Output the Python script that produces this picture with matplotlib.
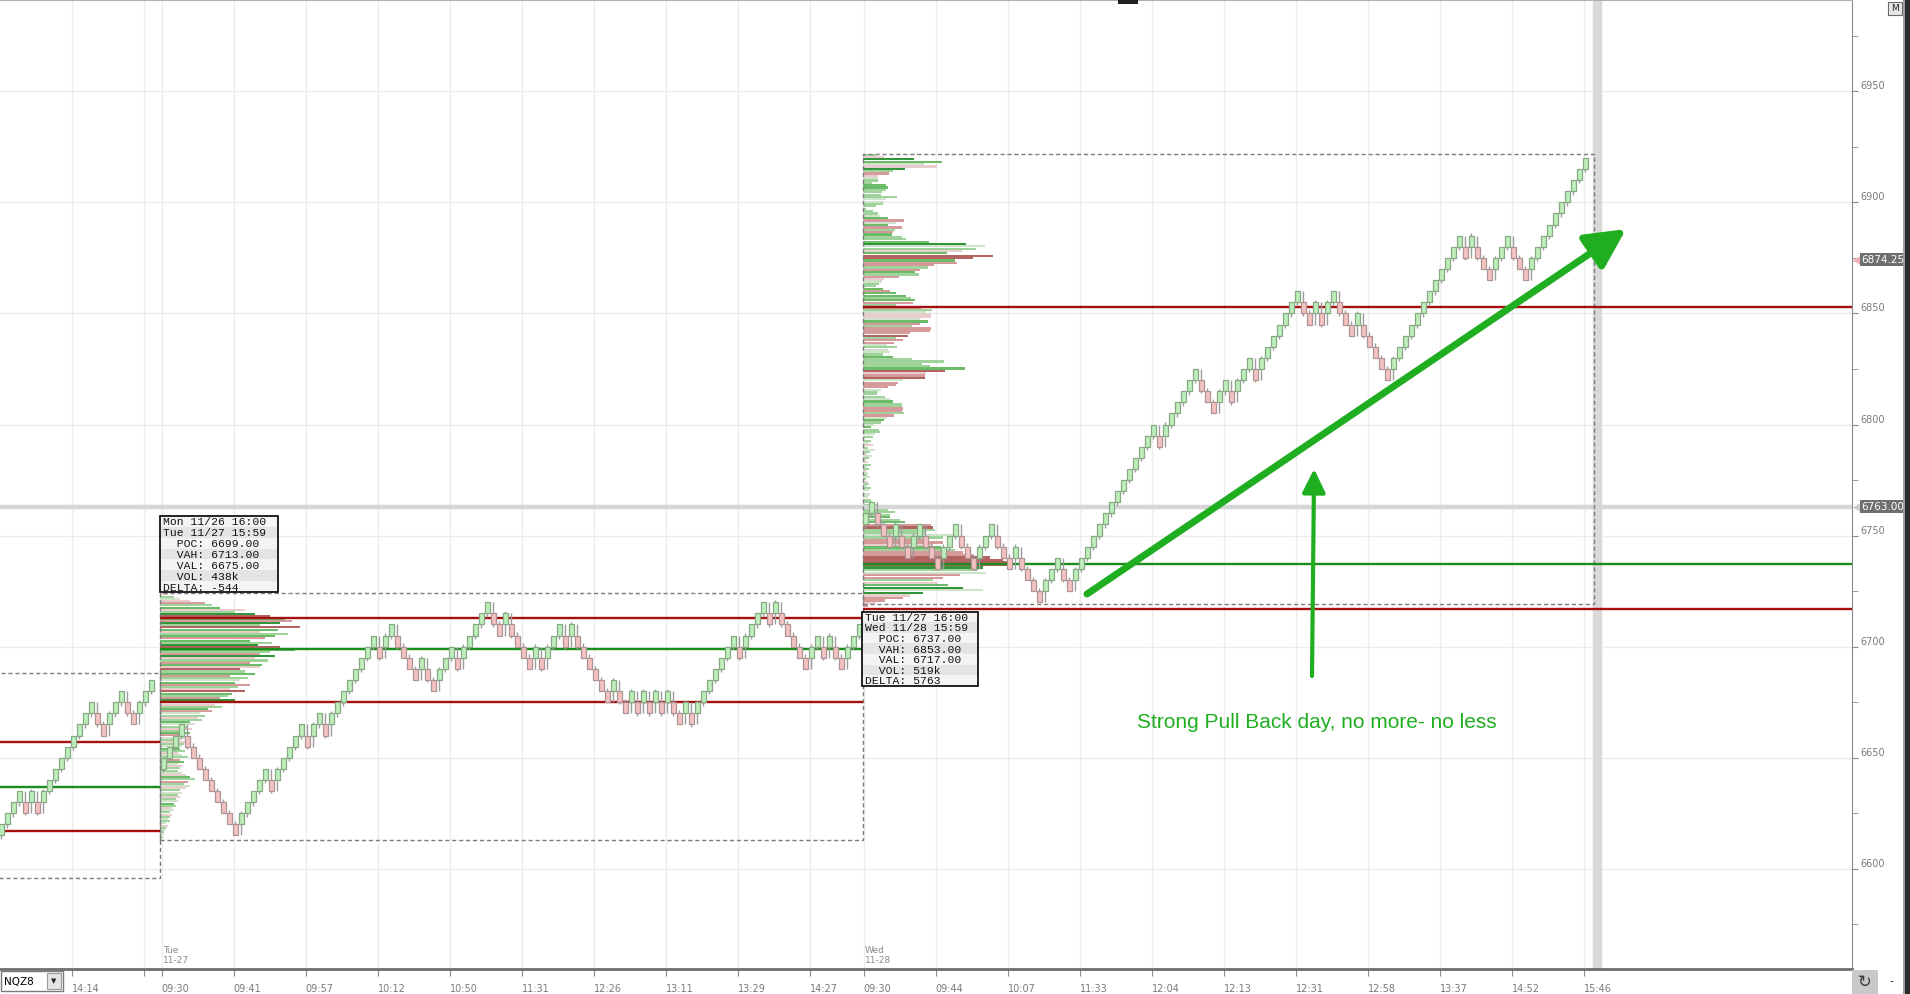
import matplotlib
matplotlib.use("Agg")
import matplotlib.pyplot as plt
import matplotlib.transforms as mtransforms
from matplotlib.patches import Rectangle

plt.rcParams['font.family'] = ['DejaVu Sans']

###-RENKO DATA (5 pt bricks, 2 brick reversal)-###
BRICK = 5
mon_first = (6615, 6620)      # open, close of first brick
mon_moves = "UUUDUDUUUUUUUUUDDUUUDDUUU"
tue_first = (6645, 6650)
tue_moves = ("UUUDDDDDDDDD" "UUUUUDUUUU" "UDUUDUUUUU" "UUUDUUDDDD" "UDDUUUDUUU"
             "UUDDUDDDDU" "DUUUDUDDDD" "DDUDDUDUDU" "DUDDUDUUUU" "UUUDUUUUDU"
             "DDDDDUUDUD" "DUUU")
wed_first = (6755, 6760)
wed_moves = ("UDDDUDDUUDDDUUUDDDUUUDD" "DUDDDDUUUDDUUUUUUUU" "UUUUUUDUUUUUU"
             "DDDUUDUUUDUUUUUUU" "DDUDUUDDDUDDDDD" "UUUUUUUUUUUU"
             "DUDDDUUUDDDUUUUUUUUUU")
mon_bar0, tue_bar0, wed_bar0 = 0, 27, 144

###-VOLUME PROFILES (segments: top price, bottom price, lengths, colour codes)-###
tue_prof_top, tue_prof_bot = 6724, 6613
tue_prof = [8, 14, 20, 30, 45, 52, 60, 85, 75, 95,
            110, 125, 132, 120, 100, 140, 118, 100, 128, 115,
            105, 90, 112, 98, 120, 135, 110, 100, 115, 95,
            108, 90, 102, 100, 80, 85, 95, 70, 88, 80,
            75, 90, 78, 70, 85, 72, 68, 60, 75, 62,
            55, 62, 48, 52, 40, 45, 38, 42, 30, 35,
            28, 32, 25, 30, 22, 26, 20, 28, 24, 22,
            20, 25, 18, 22, 28, 20, 24, 18, 22, 20,
            18, 22, 26, 30, 35, 28, 24, 30, 26, 20,
            22, 18, 20, 16, 18, 14, 16, 12, 14, 10,
            12, 10, 8, 10, 6, 8, 6, 5, 4, 4, 3, 2]
tue_prof_col = ("qlpqrlgqlG" "RgrGlRgqlg" "rglGRglrGq" "lrgqRlgrlp" "grlqRglrGl"
                "qlgrplqlgp" "lqlgrplqlp" "glqplrgpql" "lpqglrlpql" "plqlpglqpl"
                "qlplpqlplp" "lp")

wed_prof_a_top, wed_prof_a_bot = 6922, 6794
wed_prof_a = [13, 21, 51, 79, 61, 74, 42, 30, 26, 15,
              15, 15, 9, 23, 25, 23, 19, 18, 34, 23,
              21, 20, 13, 3, 10, 15, 17, 25, 41, 33,
              25, 39, 32, 30, 29, 39, 43, 66, 103, 122,
              113, 99, 84, 130, 110, 92, 94, 71, 65, 57,
              52, 56, 36, 21, 19, 16, 13, 20, 27, 33,
              43, 48, 52, 50, 33, 58, 69, 63, 68, 68,
              57, 65, 57, 49, 68, 67, 47, 45, 33, 40,
              31, 24, 34, 25, 27, 20, 30, 49, 81, 59,
              67, 102, 82, 63, 62, 62, 40, 35, 33, 25,
              18, 15, 14, 22, 27, 30, 39, 39, 40, 39,
              41, 31, 24, 21, 18, 11, 8, 16, 17, 12, 10]
wed_prof_a_col = ("lqGgpqGlrq" "pllggllllp" "plllllpgrp" "grlrgllgGp" "lqgRRgrrlr"
                  "glrqpllgrg" "glgrlrlpqq" "pgrlrrrRlr" "rplpplglll" "lgRqrRprrr"
                  "plllpgllrr" "lrpglpgllpl")
wed_prof_b_top, wed_prof_b_bot = 6793, 6770
wed_prof_b = [8, 6, 10, 5, 12, 7, 4, 9, 6, 3, 5, 8, 4, 6, 3, 5, 4, 7, 3, 5, 6, 4, 8, 6]
wed_prof_b_col = "lpqlplqplpqlplqplplqlplp"
wed_prof_c_top, wed_prof_c_bot = 6769, 6718
wed_prof_c = [7, 5, 8, 9, 15, 20, 25, 32, 27, 27, 37, 42, 68, 70, 72, 62, 93, 80, 65, 80,
              70, 78, 92, 100, 110, 127, 140, 150, 150, 120, 115, 123, 97, 80, 70, 75, 85,
              100, 120, 60, 47, 40, 22, 13, 5]
wed_prof_c_col = "pplllplllglgrRllplrrqglrrRRRRGlprrlqgGpGqrrqrq"

###-SESSION LEVELS (VAH, POC, VAL)-###
mon_levels = [6657, 6637, 6617]
tue_levels = [6713, 6699, 6675]
wed_levels = [6853, 6737, 6717]
mon_box = (6596, 6688)
tue_box = (6613, 6724)
wed_box = (6719, 6922)

tue_info = ["Mon 11/26 16:00", "Tue 11/27 15:59", "  POC: 6699.00", "  VAH: 6713.00",
            "  VAL: 6675.00", "  VOL: 438k", "DELTA: -544"]
wed_info = ["Tue 11/27 16:00", "Wed 11/28 15:59", "  POC: 6737.00", "  VAH: 6853.00",
            "  VAL: 6717.00", "  VOL: 519k", "DELTA: 5763"]

###-AXES LABELS-###
tick_bars = [11.7, 23.7, 26.7, 38.7, 50.7, 62.7, 74.7, 86.7, 98.7, 110.7, 122.7, 134.7,
             143.7, 155.7, 167.7, 179.7, 191.7, 203.7, 215.7, 227.7, 239.7, 251.7, 263.7]
tick_labels = ['14:14', '', '09:30', '09:41', '09:57', '10:12', '10:50', '11:31', '12:26',
               '13:11', '13:29', '14:27', '09:30', '09:44', '10:07', '11:33', '12:04',
               '12:13', '12:31', '12:58', '13:37', '14:52', '15:46']
price_ticks = [6600, 6650, 6700, 6750, 6800, 6850, 6900, 6950]
last_price = 6874.25
mark_price = 6763.00

PROF_COL = {'G': '#34963a', 'g': '#6cbb68', 'l': '#9fd39b', 'p': '#cfe3cb',
            'q': '#e9cccc', 'r': '#d69a9a', 'R': '#b36262'}
RED, GREEN = '#a50f0f', '#1b8c1b'
ARROW = '#1fae1f'


def build_bricks(first, moves):
    o, c = first
    out = [(o, c)]
    for m in moves:
        up = c > o
        if m == 'U':
            o, c = (c, c + BRICK) if up else (o, o + BRICK)
        else:
            o, c = (o, o - BRICK) if up else (c, c - BRICK)
        out.append((o, c))
    return out


def draw_bricks(ax, bar0, bricks):
    xs, bots, hts, fcs, ecs, lows, highs = [], [], [], [], [], [], []
    prev = None
    for k, (o, c) in enumerate(bricks):
        up = c > o
        lo, hi = min(o, c), max(o, c)
        if prev is not None and up != (prev[1] > prev[0]):
            wl, wh = (lo - BRICK, hi + 1) if up else (lo - 1, hi + BRICK)
        else:
            wl, wh = (lo - 1.5, hi) if up else (lo, hi + 1.5)
        xs.append(bar0 + k)
        bots.append(lo)
        hts.append(hi - lo)
        fcs.append('#bdeebb' if up else '#f5c2c2')
        ecs.append('#86a883' if up else '#ad9393')
        lows.append(wl)
        highs.append(wh)
        prev = (o, c)
    ax.vlines(xs, lows, highs, color='#9c9c9c', lw=1, zorder=4)
    ax.bar(xs, hts, bottom=bots, width=0.8, color=fcs, edgecolor=ecs, linewidth=0.9, zorder=5)


def draw_profile(ax, left, top, bot, lengths, codes):
    n = len(lengths)
    step = (top - bot) / n
    ys = [top - step * (k + 0.5) for k in range(n)]
    ax.barh(ys, [v / 6.0 for v in lengths], left=left, height=step * 0.92,
            color=[PROF_COL[ch] for ch in codes[:n]], linewidth=0, zorder=2)


def draw_info(ax, left, right, top, bot, lines):
    rh = (top - bot) / len(lines)
    for k, s in enumerate(lines):
        ax.add_patch(Rectangle((left, top - rh * (k + 1)), right - left, rh,
                               fc='#f4f4f4' if k % 2 == 0 else '#e4e4e4', ec='none', zorder=7))
        ax.text(left + 0.45, top - rh * (k + 0.5), s, family='Liberation Mono', fontsize=8.2,
                va='center_baseline', ha='left', color='#111111', zorder=8)
    ax.add_patch(Rectangle((left, bot), right - left, top - bot, fill=False, ec='black',
                           lw=1.2, zorder=8))


fig = plt.figure(figsize=(19.10, 9.94), dpi=100)
ax = fig.add_axes([0, 25 / 994, 1852 / 1910, 969 / 994])
ax.set_xlim(-0.217, 308.45)
ax.set_ylim(6554.9, 6991.1)

# grid
ax.set_xticks(tick_bars)
ax.set_xticklabels(tick_labels)
ax.set_yticks(price_ticks)
ax.set_yticks([p + 25 for p in [6550] + price_ticks], minor=True)
ax.grid(True, which='major', color='#ededed', lw=1, zorder=0)
ax.set_axisbelow(True)

# right axis
ax.yaxis.tick_right()
ax.tick_params(axis='y', which='both', direction='out', length=4, color='#8a8a8a',
               labelsize=7, labelcolor='#7a7a7a', pad=2)
for lbl in ax.get_yticklabels():
    lbl.set_va('bottom')
ax.tick_params(axis='x', direction='out', length=5, color='#8a8a8a', labelsize=7,
               labelcolor='#7a7a7a', pad=6)
for lbl in ax.get_xticklabels():
    lbl.set_ha('left')
ax.spines['left'].set_visible(False)
ax.spines['bottom'].set_color('#6e6e6e')
ax.spines['bottom'].set_linewidth(2)
ax.spines['right'].set_color('#8a8a8a')
ax.spines['top'].set_color('#b0b0b0')

tx = mtransforms.blended_transform_factory(ax.transData, ax.transAxes)
ax.text(26.95, 0.004, 'Tue\n11-27', transform=tx, fontsize=6.5, color='#8a8a8a', va='bottom')
ax.text(143.95, 0.004, 'Wed\n11-28', transform=tx, fontsize=6.5, color='#8a8a8a', va='bottom')

# current bar band and mark line
ax.axvspan(265.3, 266.6, color='#d9d9d9', zorder=1)
ax.axhline(mark_price, color='#d6d6d6', lw=3.2, zorder=3)

# profiles
tue_left, wed_left, wed_right = 26.45, 143.6, 265.5
draw_profile(ax, tue_left, tue_prof_top, tue_prof_bot, tue_prof, tue_prof_col)
draw_profile(ax, wed_left, wed_prof_a_top, wed_prof_a_bot, wed_prof_a, wed_prof_a_col)
draw_profile(ax, wed_left, wed_prof_b_top, wed_prof_b_bot, wed_prof_b, wed_prof_b_col)
draw_profile(ax, wed_left, wed_prof_c_top, wed_prof_c_bot, wed_prof_c, wed_prof_c_col)

# dashed session boxes
for x0, x1, (b0, b1) in [(-2, tue_left, mon_box), (tue_left, wed_left, tue_box),
                         (wed_left, wed_right, wed_box)]:
    ax.add_patch(Rectangle((x0, b0), x1 - x0, b1 - b0, fill=False, ec='#7c7c7c',
                           lw=1, ls=(0, (3, 2)), zorder=3))

# value area lines
for x0, x1, lv in [(-2, tue_left, mon_levels), (tue_left, wed_left, tue_levels),
                   (wed_left, 308.45, wed_levels)]:
    ax.hlines(lv, x0, x1, colors=[RED, GREEN, RED], lw=1.7, zorder=3.5)

# bricks
for bar0, first, moves in [(mon_bar0, mon_first, mon_moves), (tue_bar0, tue_first, tue_moves),
                           (wed_bar0, wed_first, wed_moves)]:
    draw_bricks(ax, bar0, build_bricks(first, moves))

# info boxes
draw_info(ax, 26.45, 46.1, 6758.8, 6724.6, tue_info)
draw_info(ax, 143.5, 162.8, 6715.8, 6682.4, wed_info)

# price tags on the axis
ta = mtransforms.blended_transform_factory(ax.transAxes, ax.transData)
ax.plot([1.003], [last_price], marker='<', ms=7, color='#f2b4b4', transform=ta, clip_on=False)
ax.text(1.0052, last_price, '%.2f' % last_price, transform=ta, fontsize=7.5, color='white',
        va='center', ha='left', clip_on=False,
        bbox=dict(boxstyle='square,pad=0.15', fc='#6f6f6f', ec='none'))
ax.plot([1.003], [mark_price], marker='<', ms=7, color='#d0d0d0', transform=ta, clip_on=False)
ax.text(1.0052, mark_price, '%.2f' % mark_price, transform=ta, fontsize=7.5, color='white',
        va='center', ha='left', clip_on=False,
        bbox=dict(boxstyle='square,pad=0.15', fc='#6f6f6f', ec='none'))

# annotations
ax.annotate('', xy=(270.8, 6888.0), xytext=(180.95, 6723.7),
            arrowprops=dict(arrowstyle='-|>,head_length=0.75,head_width=0.38', color=ARROW,
                            lw=5, mutation_scale=32, shrinkA=0, shrinkB=0), zorder=9)
ax.annotate('', xy=(218.8, 6780.0), xytext=(218.45, 6686.8),
            arrowprops=dict(arrowstyle='-|>,head_length=0.65,head_width=0.32', color=ARROW,
                            lw=3, mutation_scale=22, shrinkA=0, shrinkB=0), zorder=9)
ax.text(219.3, 6666.0, 'Strong Pull Back day, no more- no less', color=ARROW,
        family='Liberation Sans', fontsize=15, ha='center', va='center', zorder=9)

# window chrome
ui = fig.add_axes([0, 0, 1, 1], zorder=10)
ui.set_xlim(0, 1910)
ui.set_ylim(994, 0)
ui.axis('off')
ui.patch.set_alpha(0)
ui.add_patch(Rectangle((0.5, 971), 62, 20, fc='white', ec='#7a7a7a', lw=1))
ui.text(4, 981.5, 'NQZ8', fontsize=7.5, va='center', color='black')
ui.add_patch(Rectangle((47, 973), 14, 16, fc='#e4e4e4', ec='#9a9a9a', lw=0.8))
ui.text(54, 981.5, '\u25BC', fontsize=5, ha='center', va='center', color='#202020')
ui.add_patch(Rectangle((1852, 970), 26, 24, fc='#c9c9c9', ec='none'))
ui.text(1865, 982, '\u21BB', fontsize=12, ha='center', va='center', color='#3a3a3a')
ui.text(1891, 981, '-', fontsize=8, ha='center', va='center', color='#202020')
ui.add_patch(Rectangle((1888, 1.5), 14, 13, fc='#e6e6e6', ec='#6a6a6a', lw=0.8))
ui.text(1895, 8.5, 'M', fontsize=6.5, ha='center', va='center', color='#202020')
ui.add_patch(Rectangle((1118, 0), 20, 3.5, fc='#202020', ec='none'))
ui.add_patch(Rectangle((1902.5, 0), 2.5, 994, fc='#a0a0a0', ec='none'))
ui.add_patch(Rectangle((1905, 0), 5, 994, fc='#2c2c2c', ec='none'))

fig.savefig('out.png', dpi=100)
